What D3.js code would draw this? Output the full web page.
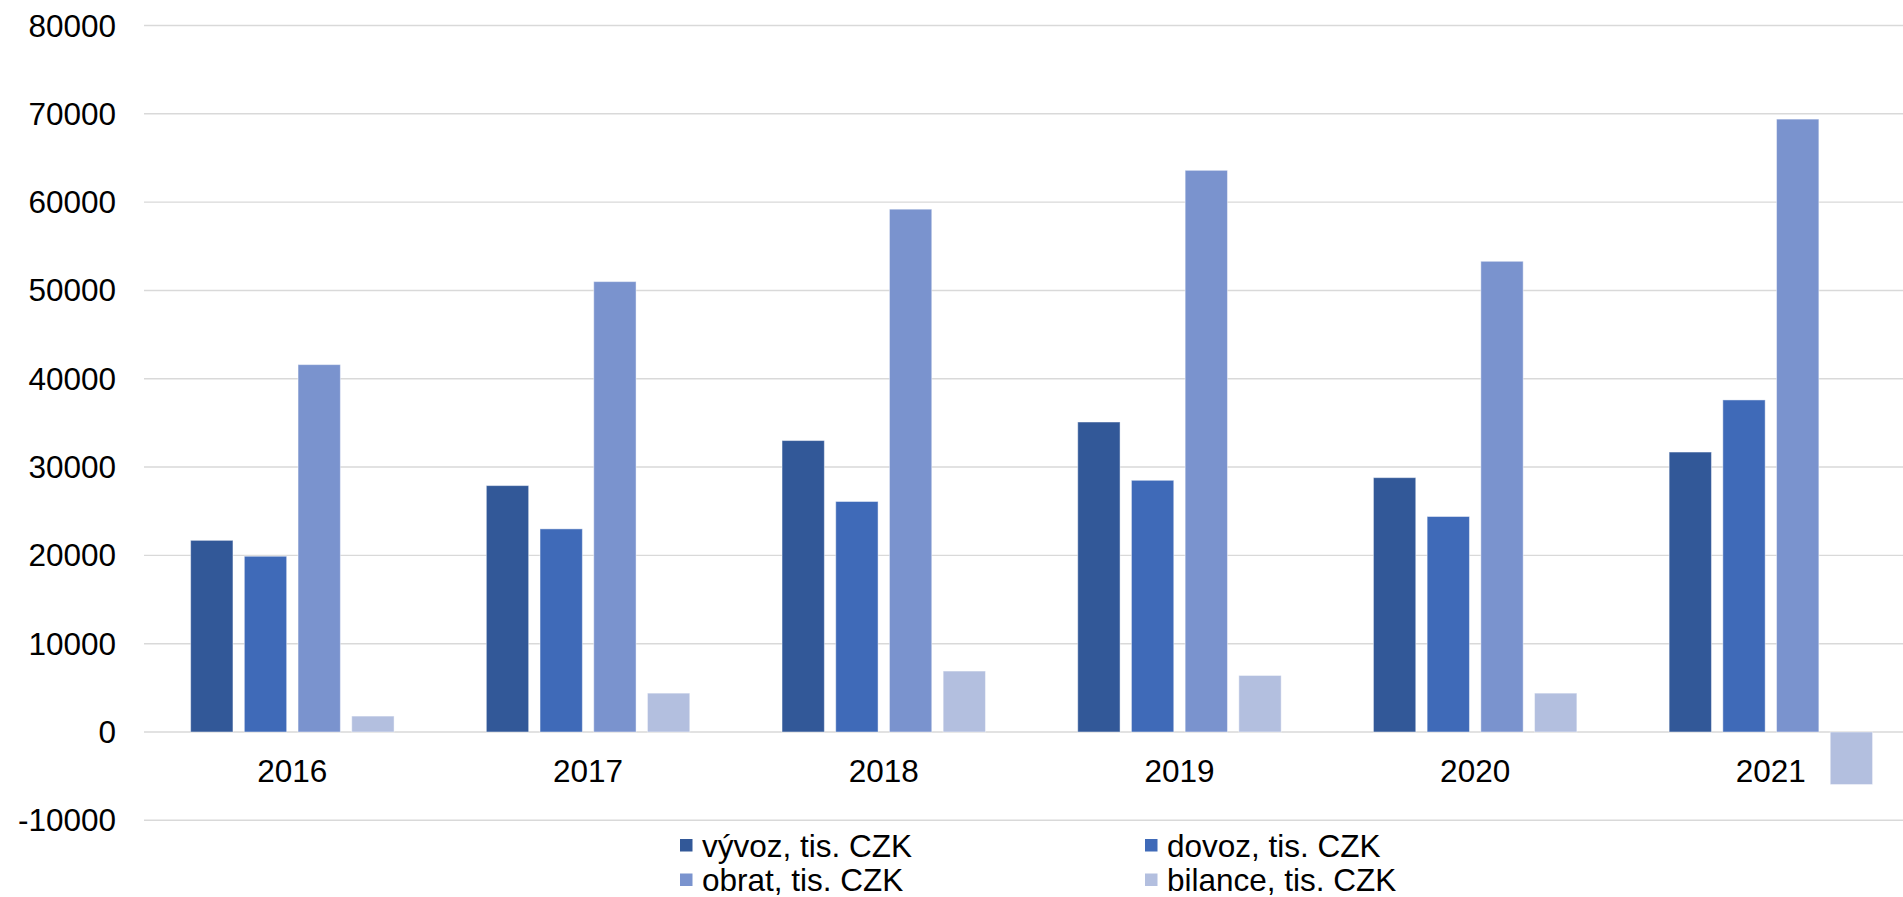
<!DOCTYPE html>
<html>
<head>
<meta charset="utf-8">
<script src="https://cdn.jsdelivr.net/npm/d3@7"></script>
<style>
    body { margin: 0; background: #fff; }
    svg { display: block; }
    text { font-family: "Liberation Sans", Arial, sans-serif; fill: #000; }
</style>
</head>
<body>
<svg id="chart"></svg>
<script>
// Categories and series (tis. CZK)
const years = ["2016", "2017", "2018", "2019", "2020", "2021"];
const vyvoz = [21700, 27900, 33000, 35100, 28800, 31700];
const dovoz = [19900, 23000, 26100, 28500, 24400, 37600];
const obrat = [41600, 51000, 59200, 63600, 53300, 69400];
const bilance = [1800, 4400, 6900, 6400, 4400, -5950];
const yTicks = [-10000, 0, 10000, 20000, 30000, 40000, 50000, 60000, 70000, 80000];

const seriesNames = ["vývoz, tis. CZK", "dovoz, tis. CZK", "obrat, tis. CZK", "bilance, tis. CZK"];
const seriesColors = ["#325898", "#3f6ab8", "#7a93ce", "#b3bfdf"];
const seriesValues = [vyvoz, dovoz, obrat, bilance];

let width = 1903;
let height = 897;

let svg = d3.select("#chart")
    .attr("width", width)
    .attr("height", height);

// Scales
let x0 = d3.scaleBand()
    .domain(years)
    .range([144.5, 144.5 + 6 * 295.7]);

let x1 = d3.scaleBand()
    .domain(d3.range(seriesNames.length))
    .range([0, x0.bandwidth()])
    .paddingInner(0.212)
    .paddingOuter(0.859);

let y = d3.scaleLinear()
    .domain([-10000, 80000])
    .range([820.3, 25.5]);

// Gridlines
svg.append("g")
    .selectAll("line")
    .data(yTicks)
    .enter()
    .append("line")
    .attr("x1", 144)
    .attr("x2", width)
    .attr("y1", (d) => y(d))
    .attr("y2", (d) => y(d))
    .style("stroke", "#d9d9d9")
    .style("stroke-width", 1.4);

// Y tick labels
svg.append("g")
    .selectAll("text")
    .data(yTicks)
    .enter()
    .append("text")
    .attr("x", 116)
    .attr("y", (d) => y(d))
    .attr("dy", "0.35em")
    .attr("text-anchor", "end")
    .style("font-size", "31.5px")
    .text((d) => d);

// Bars
let groups = svg.append("g")
    .selectAll("g")
    .data(years)
    .enter()
    .append("g")
    .attr("transform", (d) => `translate(${x0(d)},0)`);

groups.selectAll("rect")
    .data((d, i) => seriesValues.map((vals, s) => ({ series: s, value: vals[i] })))
    .enter()
    .append("rect")
    .attr("x", (d) => x1(d.series))
    .attr("width", x1.bandwidth())
    .attr("y", (d) => y(Math.max(0, d.value)))
    .attr("height", (d) => Math.abs(y(d.value) - y(0)))
    .attr("fill", (d) => seriesColors[d.series])
    .style("stroke", "#ffffff")
    .style("stroke-opacity", 0.45)
    .style("stroke-width", 1);

// Category labels
svg.append("g")
    .selectAll("text")
    .data(years)
    .enter()
    .append("text")
    .attr("x", (d) => x0(d) + x0.bandwidth() / 2)
    .attr("y", 781.5)
    .attr("text-anchor", "middle")
    .style("font-size", "31.5px")
    .text((d) => d);

// Legend (2 columns x 2 rows)
let legendCols = [702, 1167];
let legendRows = [856.5, 891];
let legend = svg.append("g")
    .selectAll("g")
    .data(seriesNames)
    .enter()
    .append("g")
    .attr("transform", (d, i) => `translate(${legendCols[i % 2]},${legendRows[Math.floor(i / 2)]})`);

legend.append("rect")
    .attr("x", -22)
    .attr("y", -17.5)
    .attr("width", 12.5)
    .attr("height", 12.5)
    .attr("fill", (d, i) => seriesColors[i]);

legend.append("text")
    .attr("x", 0)
    .attr("y", 0)
    .style("font-size", "31.5px")
    .text((d) => d);
</script>
</body>
</html>
